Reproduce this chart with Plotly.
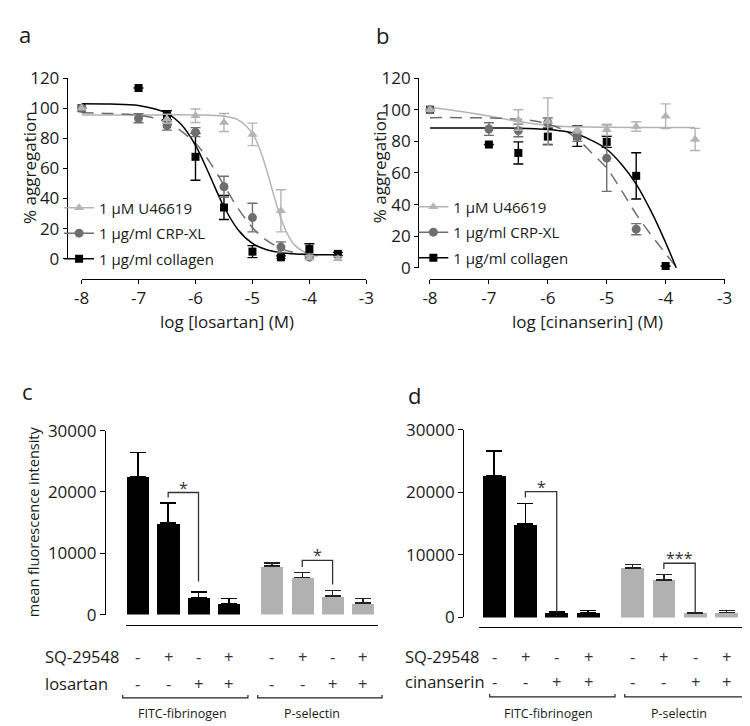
import plotly.graph_objects as go

# ---------------- data ----------------
# Panel a: losartan
a_u46619_x = [-8, -6.5, -6, -5.5, -5, -4.5, -4, -3.5]
a_u46619_y = [100, 93, 95, 90.5, 82.6, 31.8, 0.5, 0]
a_u46619_err = [0, 3, 4.5, 6, 7.5, 14, 1.5, 1.5]
a_crp_x = [-8, -7, -6.5, -6, -5.5, -5, -4.5, -4]
a_crp_y = [100, 93.3, 88.4, 84.1, 47.8, 27.3, 7.7, 1]
a_crp_err = [0, 3, 3, 3, 7, 9.5, 3.5, 1]
a_col_x = [-8, -7, -6.5, -6, -5.5, -5, -4.5, -4, -3.5]
a_col_y = [100, 113.4, 95.4, 67.7, 34, 4.7, 0.9, 6.4, 3.2]
a_col_err = [0, 0, 3, 15.6, 8, 4, 1, 3.5, 1]
# fitted curves
a_u46619_fit_x = [-8, -7, -6, -5.5, -5.25, -5, -4.875, -4.75, -4.625, -4.5, -4.375, -4.25, -4, -3.85]
a_u46619_fit_y = [95.5, 95.5, 95.5, 94.7, 92.3, 83.2, 73.2, 58.9, 42.2, 26.8, 15.6, 8.7, 3.0, 1.8]
a_crp_fit_x = [-8, -7.5, -7, -6.5, -6, -5.75, -5.5, -5.25, -5, -4.75, -4.5, -4.25, -4, -3.85]
a_crp_fit_y = [96.9, 96.5, 95.2, 90.6, 76.7, 64.2, 48.8, 33.3, 20.8, 12.1, 6.9, 3.9, 2.3, 1.7]
a_col_fit_x = [-8, -7.5, -7, -6.5, -6.25, -6, -5.75, -5.5, -5.25, -5, -4.75, -4.5, -4, -3.5]
a_col_fit_y = [103, 102.8, 101.8, 96.6, 89.1, 75.3, 55.3, 34.5, 19.1, 10.2, 5.9, 4.0, 2.8, 2.6]

# Panel b: cinanserin
b_u46619_x = [-8, -6.5, -6, -5.5, -5, -4.5, -4, -3.5]
b_u46619_y = [100, 93.5, 92.5, 87.3, 87.3, 89.4, 95.9, 81.2]
b_u46619_err = [0, 6.5, 15, 2, 3.5, 3, 7.8, 7]
b_crp_x = [-8, -7, -6.5, -6, -5.5, -5, -4.5]
b_crp_y = [100, 87.8, 86.9, 91.8, 83, 69.4, 24.5]
b_crp_err = [0, 4, 4, 3, 3, 21, 3.5]
b_col_x = [-8, -7, -6.5, -6, -5.5, -5, -4.5, -4]
b_col_y = [100, 78, 72.7, 83, 83.3, 79.7, 58.2, 1.2]
b_col_err = [0, 0, 7, 5, 6.5, 3.5, 14.6, 0]
b_u46619_fit_x = [-8, -7.5, -7, -6.5, -6, -5.5, -5, -4.5, -4, -3.5]
b_u46619_fit_y = [101.5, 99, 96, 92.5, 90, 89.2, 88.9, 88.8, 88.8, 88.8]
b_crp_fit_x = [-8, -7.5, -7, -6.5, -6.25, -6, -5.75, -5.5, -5.25, -5, -4.75, -4.5, -4.25, -4, -3.83]
b_crp_fit_y = [95, 95, 94.8, 94, 93, 91, 87.5, 81.5, 72.5, 63, 49, 34, 21, 9, 1]
b_col_fit_x = [-8, -7, -6.5, -6, -5.75, -5.5, -5.25, -5, -4.75, -4.5, -4.25, -4, -3.82]
b_col_fit_y = [88.5, 88.5, 88.3, 87.5, 86.5, 84.5, 80.5, 75, 65.5, 53, 36, 16, 0]

x_tickvals = [-8, -7, -6, -5, -4, -3]
x_ticktext = ["-8", "-7", "-6", "-5", "-4", "-3"]
agg_ticks = [0, 20, 40, 60, 80, 100, 120]
mfi_ticks = [0, 10000, 20000, 30000]

legend_names = ["1 µM U46619", "1 µg/ml CRP-XL", "1 µg/ml collagen"]

# Panels c/d: bar charts
bar_pos_fitc = [0, 1, 2, 3]
bar_pos_psel = [4.42, 5.42, 6.42, 7.42]
c_fitc_mean = [22500, 14900, 2700, 1800]
c_fitc_err = [3900, 3300, 950, 850]
c_psel_mean = [7900, 6000, 3000, 1850]
c_psel_err = [520, 890, 900, 780]
d_fitc_mean = [22600, 14900, 700, 700]
d_fitc_err = [4000, 3300, 150, 380]
d_psel_mean = [7900, 6000, 700, 770]
d_psel_err = [560, 830, 100, 300]
sq_signs = ["-", "+", "-", "+", "-", "+", "-", "+"]
drug_signs = ["-", "-", "+", "+", "-", "-", "+", "+"]
# significance brackets: (left bar pos, right bar pos, top, left foot, right foot, label)
c_sig = [(1, 2, 19900, 19100, 5400, "*"), (5.42, 6.42, 8840, 7740, 4900, "*")]
d_sig = [(1, 2, 20100, 19170, 800, "*"), (5.42, 6.42, 8660, 7730, 800, "***")]

# ---------------- style ----------------
W, H = 750, 726
def px(x):
    return x / W
def py(y):
    return 1 - y / H

FONT = "'Open Sans', sans-serif"
BLACK = "#000000"
DARK = "#6e6e6e"
LIGHT = "#b3b3b3"
BARGRAY = "#b1b1b1"
TXT = "#1a1a1a"

fig = go.Figure()

def add_fit(xs, ys, color, dash, xa, ya):
    fig.add_trace(go.Scatter(x=xs, y=ys, mode="lines", line=dict(color=color, width=1.5, dash=dash, shape="spline", smoothing=1.0),
                             xaxis=xa, yaxis=ya, showlegend=False, hoverinfo="skip"))

def add_pts(xs, ys, errs, color, symbol, size, xa, ya):
    fig.add_trace(go.Scatter(x=xs, y=ys, mode="markers", marker=dict(color=color, symbol=symbol, size=size, line=dict(width=0)),
                             error_y=dict(type="data", array=errs, color=color, thickness=1.4, width=5),
                             xaxis=xa, yaxis=ya, showlegend=False, cliponaxis=False))

series_style = [(LIGHT, "triangle-up", 9, "solid"), (DARK, "circle", 9, "12px,8px"), (BLACK, "square", 8, "solid")]

for xa, ya, fits, pts, leg in [
    ("x", "y", [(a_u46619_fit_x, a_u46619_fit_y), (a_crp_fit_x, a_crp_fit_y), (a_col_fit_x, a_col_fit_y)],
     [(a_u46619_x, a_u46619_y, a_u46619_err), (a_crp_x, a_crp_y, a_crp_err), (a_col_x, a_col_y, a_col_err)], "legend"),
    ("x2", "y2", [(b_u46619_fit_x, b_u46619_fit_y), (b_crp_fit_x, b_crp_fit_y), (b_col_fit_x, b_col_fit_y)],
     [(b_u46619_x, b_u46619_y, b_u46619_err), (b_crp_x, b_crp_y, b_crp_err), (b_col_x, b_col_y, b_col_err)], "legend2"),
]:
    for (fx, fy), (color, sym, size, dash) in zip(fits, series_style):
        add_fit(fx, fy, color, dash, xa, ya)
    for i in [2, 1, 0]:
        color, sym, size, dash = series_style[i]
        add_pts(pts[i][0], pts[i][1], pts[i][2], color, sym, size, xa, ya)
    for i, name in enumerate(legend_names):
        color, sym, size, dash = series_style[i]
        fig.add_trace(go.Scatter(x=[None], y=[None], mode="lines+markers", name=name,
                                 line=dict(color=color, width=1.5), marker=dict(color=color, symbol=sym, size=size),
                                 xaxis=xa, yaxis=ya, legend=leg, legendgroup=leg + str(i), showlegend=True))

# bars
for xa, ya, fm, fe, pm, pe in [("x3", "y3", c_fitc_mean, c_fitc_err, c_psel_mean, c_psel_err),
                               ("x4", "y4", d_fitc_mean, d_fitc_err, d_psel_mean, d_psel_err)]:
    fig.add_trace(go.Bar(x=bar_pos_fitc, y=fm, width=0.73, marker=dict(color=BLACK, line=dict(width=0)),
                         error_y=dict(type="data", array=fe, symmetric=False, arrayminus=[0] * len(fe), color=BLACK, thickness=1.5, width=8),
                         xaxis=xa, yaxis=ya, showlegend=False))
    fig.add_trace(go.Bar(x=bar_pos_psel, y=pm, width=0.73, marker=dict(color=BARGRAY, line=dict(width=0)),
                         error_y=dict(type="data", array=pe, symmetric=False, arrayminus=[0] * len(pe), color="#222222", thickness=1.5, width=8),
                         xaxis=xa, yaxis=ya, showlegend=False))

shapes = []
annotations = []
for xa, ya, sigs in [("x3", "y3", c_sig), ("x4", "y4", d_sig)]:
    for x1, x2, top, lf, rf, lab in sigs:
        shapes.append(dict(type="path", xref=xa, yref=ya,
                           path=f"M {x1},{lf} L {x1},{top} L {x2},{top} L {x2},{rf}",
                           line=dict(color="#333333", width=1.3)))
        annotations.append(dict(xref=xa, yref=ya, x=(x1 + x2) / 2, y=top, text=lab, showarrow=False,
                                xanchor="center", yanchor="bottom", yshift=-8, font=dict(family=FONT, size=16, color="#333333")))

# sign rows and labels
all_pos = bar_pos_fitc + bar_pos_psel
for xa, lx, rows in [("x3", 28, [("SQ-29548", 657), ("losartan", 685)]),
                     ("x4", 395, [("SQ-29548", 657), ("cinanserin", 683)])]:
    for (lab, yy), signs in zip(rows, [sq_signs, drug_signs]):
        annotations.append(dict(xref="paper", yref="paper", x=px(lx), y=py(yy), text=lab, showarrow=False,
                                xanchor="left", yanchor="middle", font=dict(family=FONT, size=16.5, color=TXT)))
        for p, s in zip(all_pos, signs):
            annotations.append(dict(xref=xa, yref="paper", x=p, y=py(yy), text=s, showarrow=False,
                                    xanchor="center", yanchor="middle", font=dict(family=FONT, size=16.5, color="#333333")))

# group brackets
for x0, x1, yb, lab, lxc in [(109, 237, 700, "FITC-fibrinogen", 170), (247, 374, 700, "P-selectin", 302),
                             (484, 612, 699, "FITC-fibrinogen", 544), (622, 749, 699, "P-selectin", 677)]:
    shapes.append(dict(type="path", xref="paper", yref="paper",
                       path=f"M {px(x0)},{py(yb-3)} L {px(x0)},{py(yb)} L {px(x1)},{py(yb)} L {px(x1)},{py(yb-3)}",
                       line=dict(color="#222222", width=1.2)))
    annotations.append(dict(xref="paper", yref="paper", x=px(lxc), y=py(716), text=lab, showarrow=False,
                            xanchor="center", yanchor="middle", font=dict(family=FONT, size=12.5, color=TXT)))

# titles and panel letters
def txt(x, y, s, size=15, angle=0):
    annotations.append(dict(xref="paper", yref="paper", x=px(x), y=py(y), text=s, showarrow=False, textangle=angle,
                            xanchor="center", yanchor="middle", font=dict(family=FONT, size=size, color=TXT)))

txt(13, 152, "% aggregation", 17, -90)
txt(371, 152, "% aggregation", 17, -90)
txt(216, 311, "log [losartan] (M)", 17)
txt(584, 311, "log [cinanserin] (M)", 17)
txt(18, 518, "mean fluorescence intensity", 14.5, -90)
txt(9, 14, "a", 22)
txt(374, 16, "b", 22)
txt(12, 383, "c", 22)
txt(407, 387, "d", 22)

ax = dict(showgrid=False, zeroline=False, showline=True, linecolor="black", linewidth=1.3,
          ticks="outside", ticklen=4, tickwidth=1.3, tickcolor="black",
          tickfont=dict(family=FONT, size=17, color=TXT), anchor="free")

fig.update_layout(
    width=W, height=H, margin=dict(l=0, r=0, t=0, b=0),
    paper_bgcolor="white", plot_bgcolor="white",
    font=dict(family=FONT, color="black"),
    xaxis=dict(ax, domain=[px(67), px(358)], range=[-8, -3], position=py(267), tickvals=x_tickvals, ticktext=x_ticktext),
    yaxis=dict(ax, domain=[py(246.5), py(60)], range=[0, 120], position=px(52), tickvals=agg_ticks),
    xaxis2=dict(ax, domain=[px(423), px(724)], range=[-8, -3], position=py(267), tickvals=x_tickvals, ticktext=x_ticktext),
    yaxis2=dict(ax, domain=[py(256), py(60)], range=[0, 120], position=px(411), tickvals=agg_ticks),
    xaxis3=dict(ax, domain=[px(112), px(370)], range=[-0.403, 7.92], position=py(625), ticks="", showticklabels=False),
    yaxis3=dict(ax, domain=[py(614), py(424)], range=[0, 30000], position=px(91), tickvals=mfi_ticks, tickformat="d", ticklen=5),
    xaxis4=dict(ax, domain=[px(473), px(743)], range=[-0.484, 7.95], position=py(627), ticks="", showticklabels=False),
    yaxis4=dict(ax, domain=[py(617), py(423)], range=[0, 30000], position=px(457), tickvals=mfi_ticks, tickformat="d", ticklen=5),
    legend=dict(x=px(44), y=py(177), xanchor="left", yanchor="top", bgcolor="rgba(0,0,0,0)",
                font=dict(family=FONT, size=15, color=TXT), traceorder="grouped", tracegroupgap=3, itemwidth=30),
    legend2=dict(x=px(406), y=py(176), xanchor="left", yanchor="top", bgcolor="rgba(0,0,0,0)",
                 font=dict(family=FONT, size=15, color=TXT), traceorder="grouped", tracegroupgap=3, itemwidth=30),
    shapes=shapes, annotations=annotations, bargap=0,
)

fig.write_html("out.html")
